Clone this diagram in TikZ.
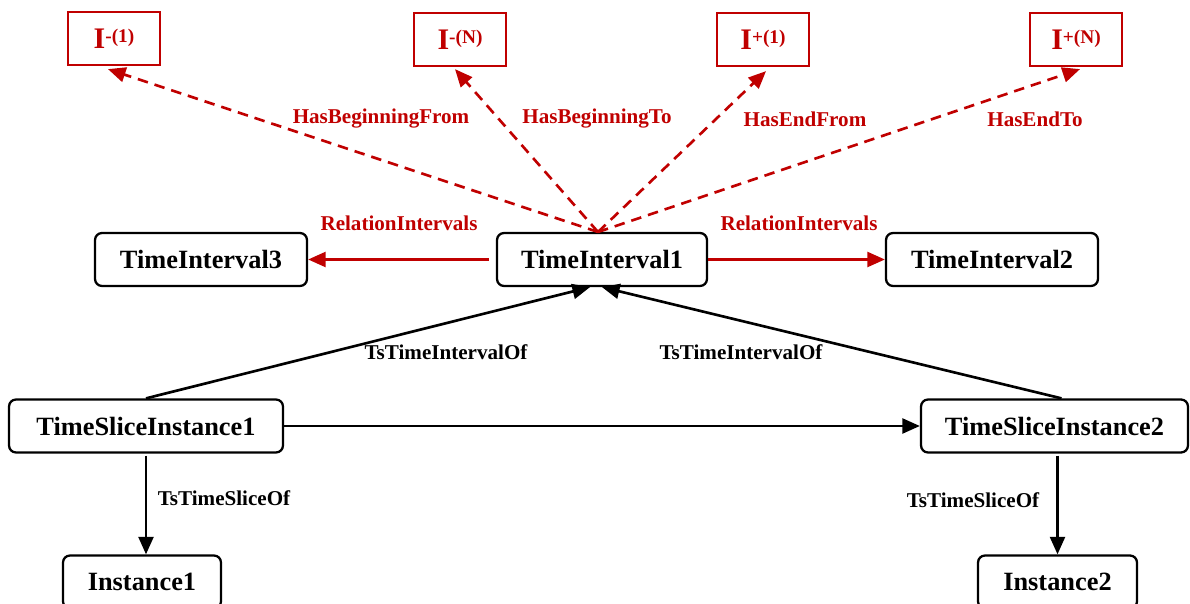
\documentclass[tikz,border=0pt]{standalone}
\usepackage{fontspec}
\setmainfont{Liberation Serif}
\usepackage{xcolor}
\usepackage{tikz}
\definecolor{relred}{RGB}{192,0,0}
\usetikzlibrary{arrows.meta,positioning,calc}
\newcommand{\bsup}[1]{{\fontsize{11}{13}\selectfont\raisebox{3.6pt}{#1}}}

\begin{document}
\begin{tikzpicture}[x=0.02cm, y=-0.02cm,
    concept/.style={rectangle, rounded corners=4pt, draw=black, line width=1.3pt, font=\fontsize{15}{18}\selectfont\bfseries, minimum height=1.06cm},
    bound/.style={rectangle, draw=relred, line width=1.3pt, text=relred, font=\fontsize{17}{20}\selectfont\bfseries, minimum width=1.84cm, minimum height=1.06cm},
    link/.style={line width=1.5pt, -{Triangle[length=10pt,width=8.5pt]}},
    redlink/.style={link, draw=relred},
    bounddash/.style={redlink, dash pattern=on 6pt off 4pt},
    lbl/.style={font=\fontsize{12}{14}\selectfont\bfseries},
    redlbl/.style={lbl, text=relred}
]
\useasboundingbox (0,0) rectangle (1190,604);

% Bounds
\node[bound] (bm1) at (114,38.5) {I\bsup{-(1)}};
\node[bound] (bmN) at (460,39.5) {I\bsup{-(N)}};
\node[bound] (bp1) at (763,39.5) {I\bsup{+(1)}};
\node[bound] (bpN) at (1076,39.5) {I\bsup{+(N)}};

% Intervals
\node[concept, minimum width=4.24cm] (ti3) at (201,259.5) {TimeInterval3};
\node[concept, minimum width=4.2cm] (ti1) at (602,259.5) {TimeInterval1};
\node[concept, minimum width=4.24cm] (ti2) at (992,259.5) {TimeInterval2};

% Time slices and instances
\node[concept, minimum width=5.48cm] (tsi1) at (146,426) {TimeSliceInstance1};
\node[concept, minimum width=5.34cm] (tsi2) at (1054.5,426) {TimeSliceInstance2};
\node[concept, minimum width=3.16cm] (inst1) at (142,582) {Instance1};
\node[concept, minimum width=3.18cm] (inst2) at (1057.5,582) {Instance2};

% Labels
\node[redlbl] (lbf) at (381,119) {HasBeginningFrom};
\node[redlbl] (lbt) at (597,119) {HasBeginningTo};
\node[redlbl] (lef) at (805,119) {HasEndFrom};
\node[redlbl] (let) at (1035,119) {HasEndTo};
\node[redlbl] (lri3) at (399,223) {RelationIntervals};
\node[redlbl] (lri2) at (799,223) {RelationIntervals};
\node[lbl] (lto1) at (446,352) {TsTimeIntervalOf};
\node[lbl] (lto2) at (741,352) {TsTimeIntervalOf};
\node[lbl] (lso1) at (224,498) {TsTimeSliceOf};
\node[lbl] (lso2) at (973,500) {TsTimeSliceOf};

% Relationships
\coordinate (hub) at (598,232);
\draw[bounddash] (hub) -- ($(bm1.south)+(-6,3)$);
\draw[bounddash] (hub) -- ($(bmN.south)+(-5,2)$);
\draw[bounddash] (hub) -- ($(bp1.south)+(3,4)$);
\draw[bounddash] (hub) -- ($(bpN.south)+(4,2)$);
\draw[redlink] ($(ti1.west)+(-7,0)$) -- (ti3.east);
\draw[redlink] (ti1.east) -- (ti2.west);
\draw[link] (tsi1.north) -- ($(ti1.south)+(-12,0)$);
\draw[link] ($(tsi2.north)+(7,0)$) -- (ti1.south);
\draw[link] (tsi1.east) -- (tsi2.west);
\draw[link] ($(tsi1.south)+(0,2)$) -- (tsi1.south |- inst1.north);
\draw[link] ($(inst2.north |- tsi2.south)+(0,2)$) -- (inst2.north);

\end{tikzpicture}
\end{document}
